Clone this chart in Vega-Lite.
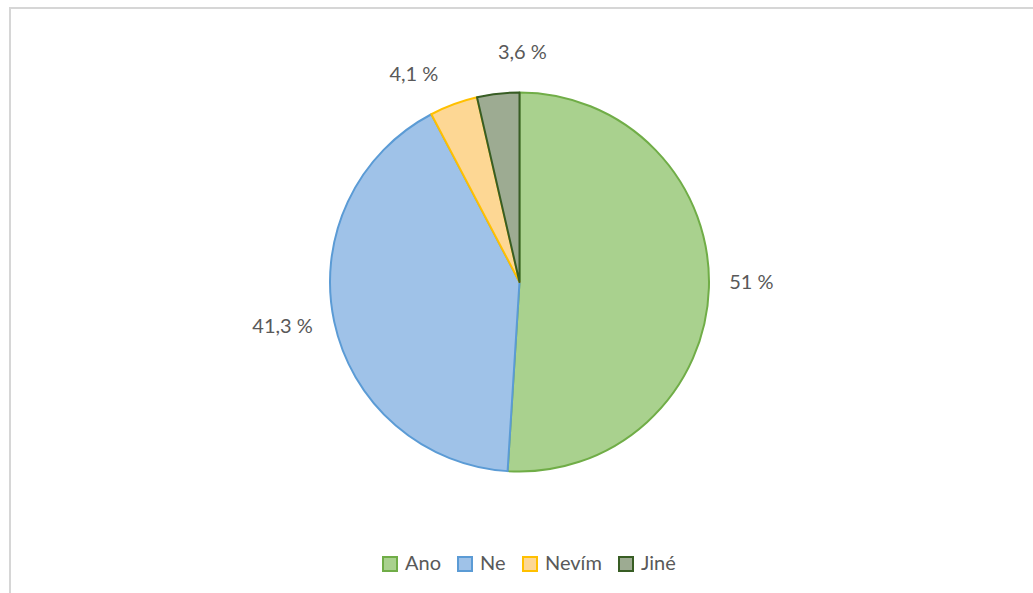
{
  "$schema": "https://vega.github.io/schema/vega-lite/v6.json",
  "width": 1023,
  "height": 585,
  "autosize": "none",
  "padding": {"left": 10, "top": 8, "right": 0, "bottom": 0},
  "background": "white",
  "config": {"view": {"stroke": null}, "font": "Lato"},
  "data": {"values": [
    {"kategorie": "Ano", "podil": 51.0, "popisek": "51 %", "poradi": 1},
    {"kategorie": "Ne", "podil": 41.3, "popisek": "41,3 %", "poradi": 2},
    {"kategorie": "Nevím", "podil": 4.1, "popisek": "4,1 %", "poradi": 3},
    {"kategorie": "Jiné", "podil": 3.6, "popisek": "3,6 %", "poradi": 4}
  ]},
  "layer": [
    {
      "data": {"values": [{"ramecek": 1}]},
      "mark": {"type": "rect", "fill": null, "stroke": "#d6d6d6", "strokeWidth": 2, "x": 0, "y": 0, "x2": {"expr": "width+10"}, "y2": {"expr": "height+10"}},
      "encoding": {}
    },
    {
      "mark": {"type": "arc", "outerRadius": 189.5, "x": {"expr": "width/2-2"}, "y": {"expr": "height/2-18.5"}, "strokeWidth": 2, "strokeJoin": "round"},
      "encoding": {
        "theta": {"field": "podil", "type": "quantitative", "stack": true},
        "order": {"field": "poradi", "type": "quantitative"},
        "color": {
          "field": "kategorie", "type": "nominal",
          "scale": {"domain": ["Ano", "Ne", "Nevím", "Jiné"], "range": ["#a9d18e", "#9fc2e8", "#fdd794", "#9dab92"]},
          "legend": {
            "orient": "none", "legendX": 370, "legendY": 546, "direction": "horizontal",
            "title": null, "symbolType": "square", "symbolSize": 196, "symbolStrokeWidth": 2,
            "labelFontSize": 20, "labelColor": "#595959", "labelFont": "Lato",
            "columnPadding": 13, "labelOffset": 5, "padding": 0
          }
        },
        "stroke": {
          "field": "kategorie", "type": "nominal",
          "scale": {"domain": ["Ano", "Ne", "Nevím", "Jiné"], "range": ["#70ad47", "#5b9bd5", "#ffc000", "#385d24"]}
        }
      }
    },
    {
      "mark": {
        "type": "text", "radius": 232, "x": {"expr": "width/2-2"}, "y": {"expr": "height/2-18.5"},
        "fontSize": 20, "font": "Lato", "color": "#595959", "align": "center", "baseline": "middle",
        "dx": {"expr": "datum.kategorie==='Jiné'?29:datum.kategorie==='Nevím'?-25:datum.kategorie==='Ne'?-10:0"},
        "dy": {"expr": "datum.kategorie==='Jiné'?2:datum.kategorie==='Nevím'?11:datum.kategorie==='Ne'?-3:-6"}
      },
      "encoding": {
        "theta": {"field": "podil", "type": "quantitative", "stack": true},
        "order": {"field": "poradi", "type": "quantitative"},
        "text": {"field": "popisek", "type": "nominal"}
      }
    }
  ]
}
